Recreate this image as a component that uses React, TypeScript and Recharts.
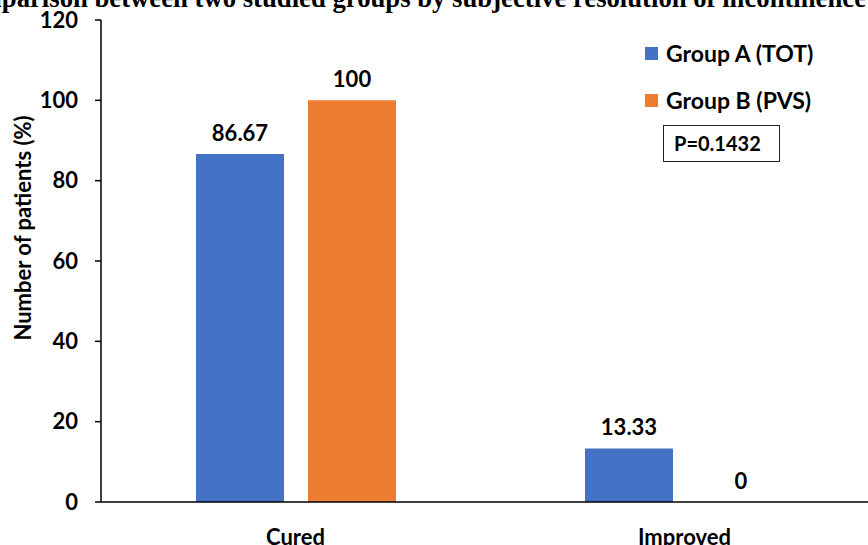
import { BarChart, Bar, XAxis, YAxis, Legend, LabelList } from 'recharts'

const categories = ['Cured', 'Improved']
const groupA = [86.67, 13.33]
const groupB = [100, 0]
const yTicks = [0, 20, 40, 60, 80, 100, 120]
const series = [
  { key: 'groupA', name: 'Group A (TOT)', color: '#4472C4' },
  { key: 'groupB', name: 'Group B (PVS)', color: '#ED7D31' },
]
const title = 'Comparison between two studied groups by subjective resolution of incontinence'
const pValue = 'P=0.1432'

const data = categories.map((c, i) => ({ name: c, groupA: groupA[i], groupB: groupB[i] }))

const font = 'Lato, "Open Sans", sans-serif'

function LegendBox() {
  return (
    <div style={{ fontFamily: font, fontWeight: 700, color: '#000' }}>
      {series.map((s, i) => (
        <div key={s.key} style={{ display: 'flex', alignItems: 'center', height: 24, marginBottom: i === 0 ? 23 : 0 }}>
          <span style={{ width: 13, height: 13, background: s.color, display: 'inline-block', marginRight: 8 }} />
          <span style={{ fontSize: 23 }}>{s.name}</span>
        </div>
      ))}
      <div
        style={{
          marginTop: 13,
          marginLeft: 18,
          width: 117,
          height: 37,
          border: '1.5px solid #222',
          boxSizing: 'border-box',
          fontSize: 20,
          lineHeight: '35px',
          paddingLeft: 10,
        }}
      >
        {pValue}
      </div>
    </div>
  )
}

export default function App() {
  return (
    <div style={{ position: 'absolute', left: 0, top: 0, width: 868, height: 545, overflow: 'hidden', background: '#fff' }}>
      <div
        style={{
          position: 'absolute',
          right: 2,
          top: -15,
          whiteSpace: 'nowrap',
          fontFamily: '"Liberation Serif", serif',
          fontWeight: 700,
          fontSize: 26.7,
          lineHeight: 1,
        }}
      >
        {title}
      </div>
      <BarChart
        width={880}
        height={545}
        data={data}
        margin={{ top: 20, right: 1, left: 0, bottom: 0 }}
        barSize={88}
        barGap={24}
      >
        <XAxis
          dataKey="name"
          height={43}
          tickLine={false}
          tickSize={0}
          tickMargin={27}
          axisLine={{ stroke: '#000', strokeWidth: 1.5 }}
          tick={{ fill: '#000', fontSize: 22, fontWeight: 700, fontFamily: font }}
        />
        <YAxis
          width={101}
          domain={[0, 120]}
          ticks={yTicks}
          interval={0}
          tickSize={6}
          tickMargin={17}
          axisLine={{ stroke: '#000', strokeWidth: 1.5 }}
          tickLine={{ stroke: '#000', strokeWidth: 1.5 }}
          tick={{ fill: '#000', fontSize: 22, fontWeight: 700, fontFamily: font }}
          label={{
            content: () => (
              <text
                x={31}
                y={228}
                transform="rotate(-90, 31, 228)"
                textAnchor="middle"
                fill="#000"
                fontSize={22}
                fontWeight={700}
                fontFamily={font}
              >
                Number of patients (%)
              </text>
            ),
          }}
        />
        <Legend
          layout="horizontal"
          verticalAlign="middle"
          align="center"
          content={() => <LegendBox />}
          wrapperStyle={{ position: 'absolute', top: 41, left: 645, width: 230 }}
        />
        {series.map(s => (
          <Bar
            key={s.key}
            dataKey={s.key}
            name={s.name}
            fill={s.color}
            minPointSize={(v: number) => (v === 0 ? 0.01 : 0)}
            isAnimationActive={false}
          >
            <LabelList
              dataKey={s.key}
              position="top"
              offset={13}
              fill="#000"
              fontSize={22}
              fontWeight={700}
              fontFamily={font}
            />
          </Bar>
        ))}
      </BarChart>
    </div>
  )
}
